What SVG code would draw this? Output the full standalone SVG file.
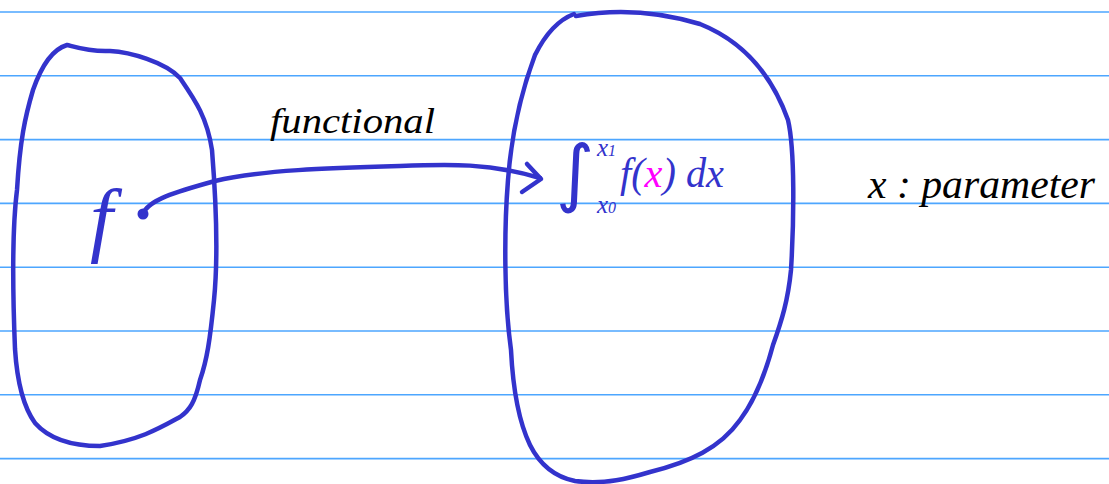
<svg xmlns="http://www.w3.org/2000/svg" width="1109" height="484" viewBox="0 0 1109 484">
<style>
.rule{stroke:#4da6ff;stroke-width:1.6}
.ink{fill:none;stroke:#3333cc;stroke-width:4.5;stroke-linecap:round;stroke-linejoin:round}
.blue{fill:#3333cc;font-family:"Liberation Serif",serif;font-style:italic}
.black{fill:#000;font-family:"Liberation Serif",serif;font-style:italic}
.sym{fill:#3333cc;font-family:"DejaVu Sans",sans-serif}
</style>
<rect width="1109" height="484" fill="#fff"/>
<g id="ruling">
<line class="rule" x1="0" y1="12" x2="1109" y2="12"/>
<line class="rule" x1="0" y1="75.8" x2="1109" y2="75.8"/>
<line class="rule" x1="0" y1="139.6" x2="1109" y2="139.6"/>
<line class="rule" x1="0" y1="203.4" x2="1109" y2="203.4"/>
<line class="rule" x1="0" y1="267.2" x2="1109" y2="267.2"/>
<line class="rule" x1="0" y1="331" x2="1109" y2="331"/>
<line class="rule" x1="0" y1="394.8" x2="1109" y2="394.8"/>
<line class="rule" x1="0" y1="458.6" x2="1109" y2="458.6"/>
</g>
<g id="node-domain">
<path class="ink" d="M67,45 C75,47 90,52 110,51 C130,52 165,62 180,78 C195,100 207,117 212,150 C216,200 218,260 214,300 C210,340 207,360 200,380 C195,402 190,410 180,417 C160,428 140,440 100,446 C75,446 50,440 35,423 C22,405 17,380 15,349 C13,300 12,230 17,190 C20,140 25,117 33,90 C40,70 50,50 67,45 Z"/>
<text class="blue" x="90" y="246" font-size="82">f</text>
<circle cx="143" cy="214" r="5.5" fill="#3333cc"/>
</g>
<g id="node-codomain">
<path class="ink" d="M576,16 C620,8 660,12 700,24 C740,40 770,70 788,120 C795,150 794,220 791,270 C788,300 782,320 773,345 C765,375 755,400 740,420 C720,448 690,462 650,472 C630,478 605,485 575,481 C555,477 540,465 530,445 C518,420 513,390 511,350 C504,300 504,230 508,180 C511,140 520,95 535,55 C545,35 558,20 574,14"/>
<text class="sym" x="556" y="198" font-size="74">∫</text>
<text class="blue" x="597" y="156" font-size="25">x<tspan font-size="16">1</tspan></text>
<text class="blue" x="597" y="213" font-size="25">x<tspan font-size="16">0</tspan></text>
<text class="blue" x="620" y="187" font-size="42" textLength="104" lengthAdjust="spacingAndGlyphs">f(<tspan fill="#ff00ff">x</tspan>) dx</text>
</g>
<g id="connectors">
<path class="ink" d="M143,214 C148,200 175,192 215,181 C260,170 330,168 400,166 C450,164 490,163 540,178"/>
<polyline class="ink" points="527,164 541,179 522,192"/>
</g>
<g id="labels">
<text class="black" x="270" y="133" font-size="36" textLength="165" lengthAdjust="spacingAndGlyphs">functional</text>
<text class="black" x="868" y="198" font-size="40" textLength="227" lengthAdjust="spacingAndGlyphs">x : parameter</text>
</g>
</svg>
